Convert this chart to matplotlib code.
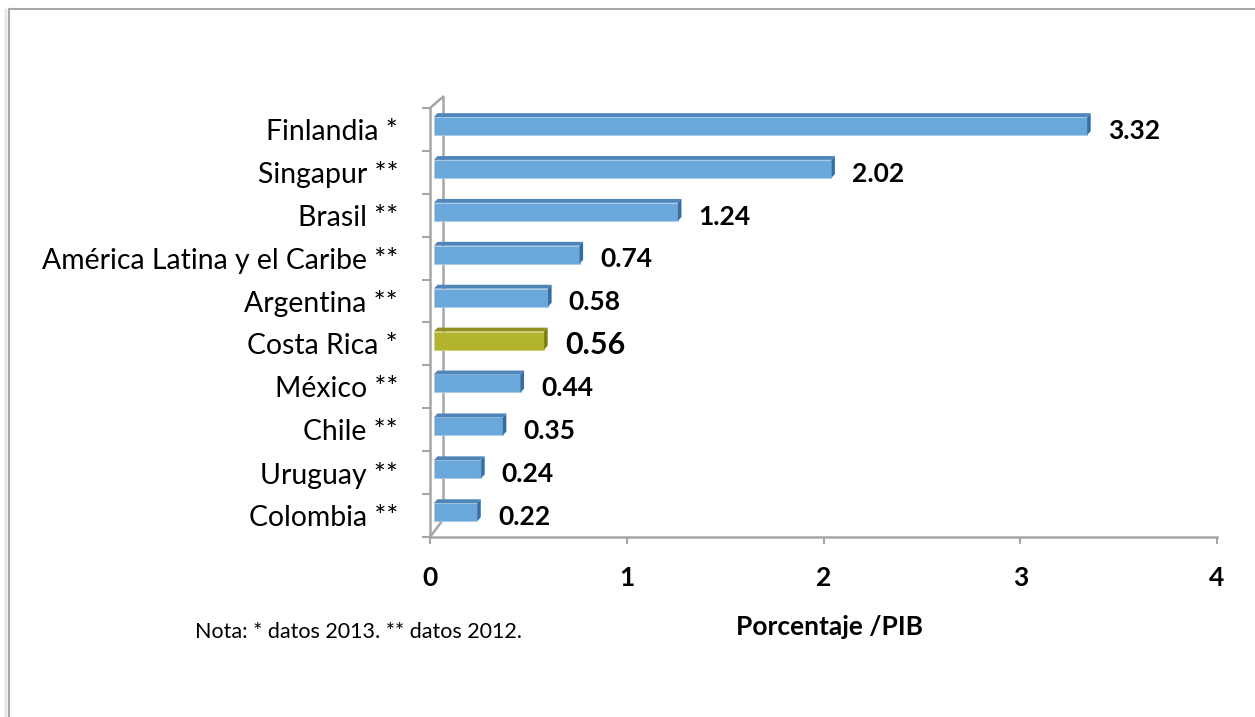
import matplotlib
matplotlib.use("Agg")
import matplotlib.pyplot as plt
from matplotlib.patches import Polygon
from matplotlib.lines import Line2D
import numpy as np

categories = ["Finlandia *", "Singapur **", "Brasil **", "América Latina y el Caribe **",
              "Argentina **", "Costa Rica *", "México **", "Chile **", "Uruguay **", "Colombia **"]
values = [3.32, 2.02, 1.24, 0.74, 0.58, 0.56, 0.44, 0.35, 0.24, 0.22]
highlight = "Costa Rica *"
xticks = [0, 1, 2, 3, 4]
xlabel = "Porcentaje /PIB"
note = "Nota: * datos 2013. ** datos 2012."

plt.rcParams['font.family'] = ['Lato', 'DejaVu Sans']

W, H = 1255, 717
fig = plt.figure(figsize=(W / 100, H / 100), dpi=100)
fig.patch.set_facecolor("white")

# frame
fig.add_artist(Line2D([9 / W, 9 / W], [0, 1 - 9 / H], color="#a8a8a8", lw=1.5, transform=fig.transFigure))
fig.add_artist(Line2D([9 / W, 1], [1 - 9 / H, 1 - 9 / H], color="#a8a8a8", lw=1.5, transform=fig.transFigure))
for k, a in enumerate([0.10, 0.06, 0.03]):
    fig.add_artist(Line2D([(6 - k) / W, (6 - k) / W], [0, 1 - 9 / H], color="black", alpha=a, lw=1, transform=fig.transFigure))

x0px, x1px, ybot, ytop = 430, 1217, 537, 108
ax = fig.add_axes([x0px / W, 1 - ybot / H, (x1px - x0px) / W, (ybot - ytop) / H])
n = len(categories)
pos = np.arange(n)[::-1]
ax.set_xlim(0, 4)
ax.set_ylim(-0.5, n - 0.5)

grey = "#a6a6a6"
off = 0.02      # bar start
fh = 0.42       # front face height
yc = 0.08       # front face shift up
dx, dy = 0.018, 0.09

for p, v, c in zip(pos, values, categories):
    if c == highlight:
        front, top, side = "#b3b42d", "#8f901e", "#7a7b17"
    else:
        front, top, side = "#6aa7db", "#4f85b9", "#3c6c9a"
    yb = p + yc - fh / 2
    yt = p + yc + fh / 2
    ax.barh(p + yc, v, left=off, height=fh, color=front, edgecolor="#a9cbe8" if c != highlight else "#cfd06a", linewidth=0.6, zorder=3)
    ax.add_patch(Polygon([[off, yt], [off + v, yt], [off + v + dx, yt + dy], [off + dx, yt + dy]],
                         closed=True, facecolor=top, edgecolor="none", zorder=3))
    ax.add_patch(Polygon([[off + v, yb], [off + v, yt], [off + v + dx, yt + dy], [off + v + dx, yb + dy]],
                         closed=True, facecolor=side, edgecolor="none", zorder=3))
    big = c == highlight
    ax.text(off + v + 0.105, p - 0.03, f"{v:.2f}", va="center", ha="left", fontweight="bold",
            fontsize=22 if big else 19, color="black")

# 3D wall lines
wx = 0.066
ax.plot([0, wx], [n - 0.5, n - 0.5 + 0.26], color=grey, lw=1.8, clip_on=False, zorder=2)
ax.plot([wx, wx], [n - 0.5 + 0.26, -0.5 + 0.4], color=grey, lw=1.8, clip_on=False, zorder=2)
ax.plot([wx, 0], [-0.5 + 0.4, -0.5], color=grey, lw=1.8, clip_on=False, zorder=2)

for s in ["top", "right"]:
    ax.spines[s].set_visible(False)
for s in ["left", "bottom"]:
    ax.spines[s].set_color(grey)
    ax.spines[s].set_linewidth(1.8)

ax.set_yticks(pos)
ax.set_yticklabels(categories, fontsize=20.4)
ax.set_yticks(np.arange(-0.5, n, 1.0), minor=True)
ax.tick_params(axis="y", which="major", length=0, pad=23)
ax.tick_params(axis="y", which="minor", length=6, width=1.5, color=grey, direction="out")
ax.set_xticks(xticks)
ax.set_xticklabels([str(t) for t in xticks], fontsize=19, fontweight="bold")
ax.tick_params(axis="x", which="major", length=5, width=1.5, color=grey, pad=16)
ax.set_facecolor("none")

fig.text(830 / W, 1 - 627 / H, xlabel, ha="center", va="center", fontsize=19, fontweight="bold")
fig.text(195 / W, 1 - 632 / H, note, ha="left", va="center", fontsize=15.5)

fig.savefig("out.png", dpi=100, facecolor="white")
